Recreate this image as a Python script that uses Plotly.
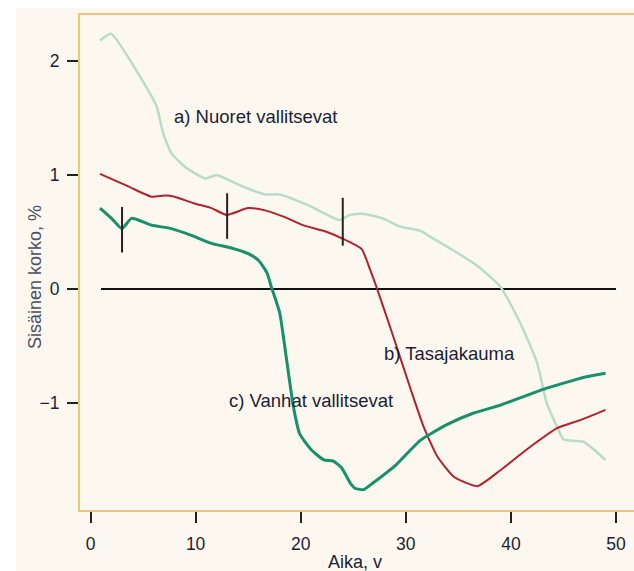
import plotly.graph_objects as go

# Curve a) Nuoret vallitsevat
a_x = [0.9, 1.95, 5.0, 6.3, 6.9, 7.7, 9.0, 10.9, 12.0, 14.2, 16.6, 18.0, 20.6, 23.7, 24.7, 25.9,
       27.8, 29.4, 31.4, 32.3, 34.5, 36.7, 39.0, 40.9, 42.5, 43.4, 44.4, 45.0, 46.9, 49.0]
a_y = [2.18, 2.24, 1.82, 1.60, 1.37, 1.19, 1.07, 0.97, 1.0, 0.91, 0.83, 0.83, 0.74, 0.605, 0.65, 0.66,
       0.62, 0.55, 0.51, 0.46, 0.34, 0.21, 0.02, -0.30, -0.65, -1.0, -1.21, -1.32, -1.34, -1.50]

# Curve b) Tasajakauma
b_x = [0.9, 3.6, 5.8, 7.1, 8.0, 9.9, 11.5, 12.95, 15.0, 16.6, 18.5, 20.2, 22.5, 23.9, 25.8, 26.6,
       27.2, 28.6, 30.5, 31.7, 33.0, 34.6, 36.8, 39.0, 41.9, 44.4, 46.6, 49.0]
b_y = [1.01, 0.90, 0.81, 0.82, 0.81, 0.75, 0.71, 0.65, 0.71, 0.69, 0.63, 0.56, 0.50, 0.445, 0.35, 0.17,
       0.02, -0.36, -0.89, -1.21, -1.47, -1.65, -1.73, -1.59, -1.38, -1.22, -1.15, -1.06]

# Curve c) Vanhat vallitsevat
c_x = [0.9, 2.0, 3.0, 3.9, 5.8, 7.7, 9.6, 11.5, 13.4, 15.0, 16.0, 16.8, 17.2, 18.0, 18.7, 19.3, 19.9,
       21.0, 22.2, 23.1, 23.9, 24.7, 25.2, 26.0, 26.9, 29.1, 31.35, 33.9, 36.4, 38.6, 41.2, 43.4,
       45.6, 47.2, 49.0]
c_y = [0.71, 0.62, 0.53, 0.62, 0.56, 0.53, 0.47, 0.40, 0.36, 0.31, 0.25, 0.14, 0.02, -0.21, -0.65,
       -1.03, -1.27, -1.41, -1.50, -1.51, -1.57, -1.70, -1.75, -1.76, -1.70, -1.54, -1.33, -1.19,
       -1.09, -1.03, -0.945, -0.87, -0.81, -0.77, -0.74]

# Zero reference line
zero_x = [1, 50]
zero_y = [0, 0]

# Vertical markers
mark_x = [3, 13, 24]
mark_lo = [0.32, 0.44, 0.38]
mark_hi = [0.72, 0.84, 0.80]

x_ticks = [0, 10, 20, 30, 40, 50]
y_ticks = [-1, 0, 1, 2]
y_tick_text = ["\u22121", "0", "1", "2"]

labels = ["a) Nuoret vallitsevat", "b) Tasajakauma", "c) Vanhat vallitsevat"]
label_x = [7.75, 27.76, 12.96]
label_y = [1.51, -0.564, -0.974]

cream = "#fdf8ef"
border = "#eec679"
txt = "#1b1e36"

fig = go.Figure()
fig.add_trace(go.Scatter(x=zero_x, y=zero_y, mode="lines",
                         line=dict(color="#111111", width=2), hoverinfo="skip"))
fig.add_trace(go.Scatter(x=a_x, y=a_y, mode="lines",
                         line=dict(color="#b9dcc9", width=2.5, shape="spline", smoothing=0.5)))
fig.add_trace(go.Scatter(x=b_x, y=b_y, mode="lines",
                         line=dict(color="#b3212d", width=2, shape="spline", smoothing=0.5)))
fig.add_trace(go.Scatter(x=c_x, y=c_y, mode="lines",
                         line=dict(color="#17906b", width=3, shape="spline", smoothing=0.5)))
mx, my = [], []
for xv, lo, hi in zip(mark_x, mark_lo, mark_hi):
    mx += [xv, xv, None]
    my += [lo, hi, None]
fig.add_trace(go.Scatter(x=mx, y=my, mode="lines",
                         line=dict(color="#222222", width=2), hoverinfo="skip"))

for t, xv, yv in zip(labels, label_x, label_y):
    fig.add_annotation(x=xv, y=yv, text=t, showarrow=False, xanchor="left", yanchor="middle",
                       font=dict(family="Liberation Sans, Arial", size=18.5, color=txt))

fig.add_annotation(xref="paper", yref="paper", x=(35 - 80) / 554, y=(510 - 277) / 495,
                   text="Sisäinen korko, %", textangle=-90, showarrow=False,
                   xanchor="center", yanchor="middle",
                   font=dict(family="Liberation Sans, Arial", size=18, color="#4a4e66"))
fig.add_annotation(xref="paper", yref="paper", x=(355 - 80) / 554, y=(510 - 562) / 495,
                   text="Aika, v", showarrow=False, xanchor="center", yanchor="middle",
                   font=dict(family="Liberation Sans, Arial", size=18, color=txt))

fig.add_shape(type="rect", xref="paper", yref="paper",
              x0=(16 - 80) / 554, x1=1.05, y0=(510 - 580) / 495, y1=(510 - 8) / 495,
              fillcolor=cream, line=dict(width=0), layer="below")

fig.update_layout(
    width=634, height=571,
    margin=dict(l=80, r=0, t=15, b=61),
    paper_bgcolor="white", plot_bgcolor=cream,
    showlegend=False,
    font=dict(family="Liberation Sans, Arial", size=17, color=txt),
    xaxis=dict(range=[-1.0, 51.71], tickvals=x_ticks, showgrid=False, zeroline=False,
               showline=True, mirror=True, linecolor=border, linewidth=2,
               ticks="outside", ticklen=11, tickwidth=2, tickcolor="#222222",
               ticklabelstandoff=6, tickfont=dict(size=17.5, color=txt)),
    yaxis=dict(range=[-1.939, 2.404], tickvals=y_ticks, ticktext=y_tick_text,
               showgrid=False, zeroline=False,
               showline=True, linecolor=border, linewidth=2,
               ticks="outside", ticklen=11, tickwidth=2, tickcolor="#222222",
               ticklabelstandoff=4, tickfont=dict(size=17.5, color=txt)),
)

fig.write_html("out.html")
